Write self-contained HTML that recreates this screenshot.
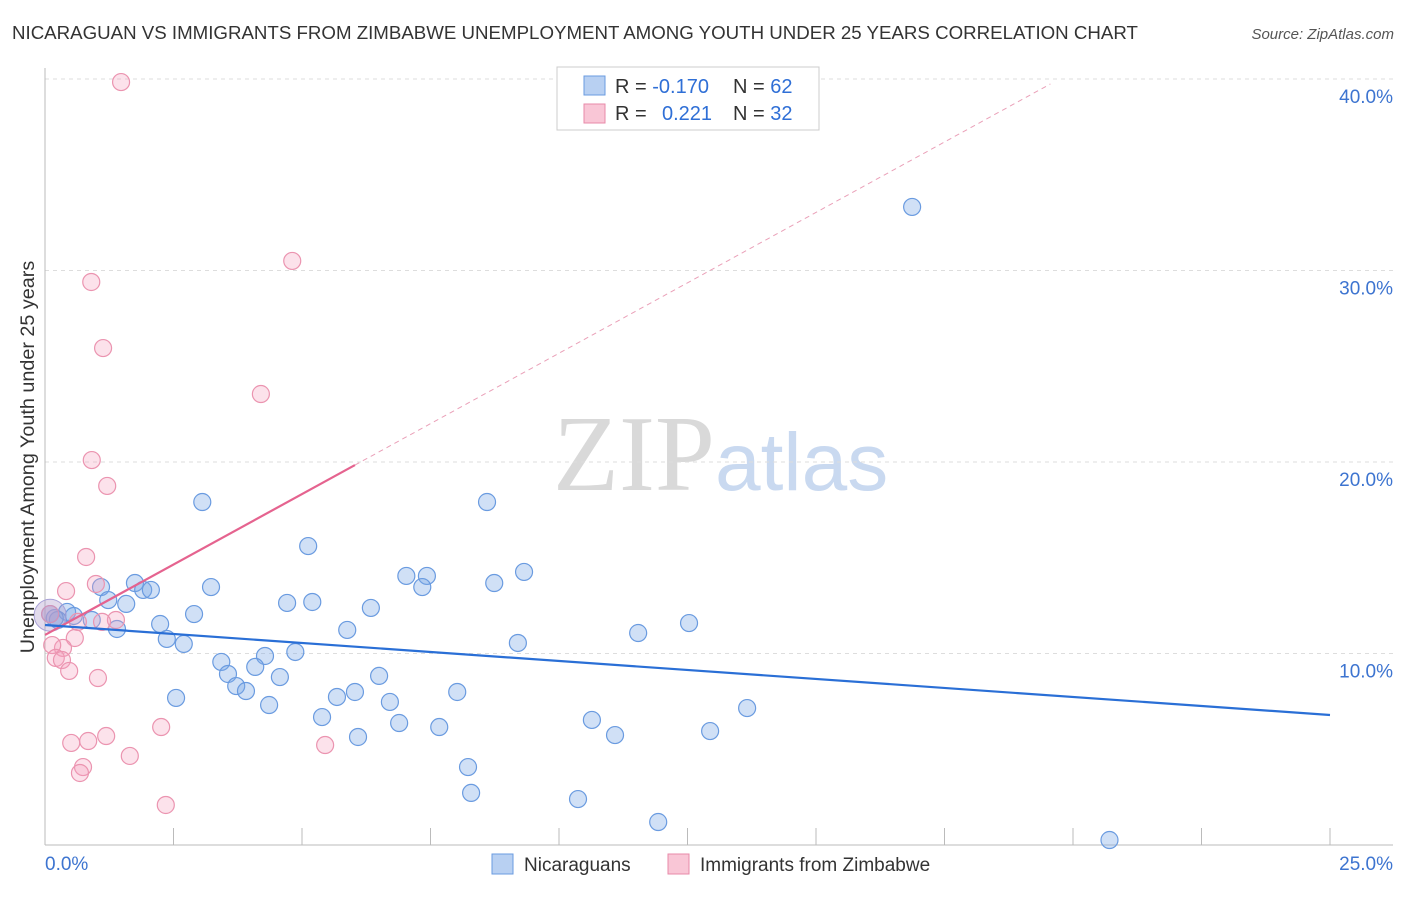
<!DOCTYPE html>
<html><head><meta charset="utf-8"><style>
body{margin:0;background:#fff;font-family:"Liberation Sans",sans-serif}
</style></head><body>
<svg id="chart" width="1406" height="892" xmlns="http://www.w3.org/2000/svg" font-family="Liberation Sans, sans-serif">
<text x="12" y="39" font-size="18.7" fill="#333">NICARAGUAN VS IMMIGRANTS FROM ZIMBABWE UNEMPLOYMENT AMONG YOUTH UNDER 25 YEARS CORRELATION CHART</text>
<text x="1394" y="39" font-size="15" fill="#555" font-style="italic" text-anchor="end">Source: ZipAtlas.com</text>
<text x="553" y="490" font-size="108"><tspan font-family="Liberation Serif, serif" fill="#d9d9d9">ZIP</tspan><tspan fill="#c9d9f0" font-size="82">atlas</tspan></text>
<g id="grid"></g>
<g id="axes"></g>
<g id="marks"></g>
<text transform="translate(34,457) rotate(-90)" font-size="19.8" fill="#333" text-anchor="middle">Unemployment Among Youth under 25 years</text>
<g>
<rect x="557" y="67" width="262" height="63" fill="#fff" stroke="#ccc"/>
<rect x="584" y="76" width="21" height="19" fill="#b8d0f2" stroke="#6a9be0"/>
<rect x="584" y="104" width="21" height="19" fill="#f9c6d6" stroke="#e88aa8"/>
<text x="615" y="93" font-size="20" fill="#333">R = <tspan fill="#2f6fd6">-0.170</tspan><tspan x="733">N = </tspan><tspan fill="#2f6fd6">62</tspan></text>
<text x="615" y="120" font-size="20" fill="#333">R = <tspan x="662" fill="#2f6fd6">0.221</tspan><tspan x="733">N = </tspan><tspan fill="#2f6fd6">32</tspan></text>
</g>
<g>
<rect x="492" y="854" width="21" height="20" fill="#b8d0f2" stroke="#6a9be0"/>
<text x="524" y="871" font-size="19" fill="#333">Nicaraguans</text>
<rect x="668" y="854" width="21" height="20" fill="#f9c6d6" stroke="#e88aa8"/>
<text x="700" y="871" font-size="19" fill="#333">Immigrants from Zimbabwe</text>
</g>
</svg>
<script>
const xTicks=[0,2.5,5,7.5,10,12.5,15,17.5,20,22.5,25];
const yTicks=[10,20,30,40];
const yTickLabels=["10.0%","20.0%","30.0%","40.0%"];
const xTickLabels=["0.0%","25.0%"];
const blueX=[16.87,8.60,3.06,5.12,9.32,7.03,7.43,8.74,7.34,1.75,1.91,2.06,3.23,1.09,1.23,1.58,4.71,5.20,6.34,2.90,0.43,0.56,0.25,0.91,2.24,1.40,12.53,11.54,5.88,2.37,2.70,9.20,4.87,4.28,3.43,4.09,3.56,4.57,6.50,3.72,3.91,2.55,8.02,5.68,6.03,6.71,4.36,13.66,5.39,6.89,7.67,10.64,11.09,12.94,6.09,8.23,8.29,10.37,11.93,20.71,0.19,0.10];
const blueY=[33.32,17.91,17.91,15.61,14.26,14.05,14.05,13.68,13.47,13.68,13.32,13.32,13.47,13.47,12.79,12.59,12.64,12.69,12.38,12.06,12.17,11.96,11.75,11.75,11.54,11.28,11.59,11.07,11.23,10.76,10.50,10.55,10.08,9.87,9.56,9.30,8.93,8.77,8.83,8.30,8.04,7.68,7.99,7.73,7.99,7.47,7.31,7.15,6.68,6.37,6.16,6.53,5.74,5.95,5.64,4.07,2.72,2.40,1.20,0.26,11.85,12.06];
const pinkX=[1.48,4.81,0.90,1.13,4.20,0.91,1.21,0.80,0.41,0.99,1.38,1.11,0.58,0.35,0.14,0.21,0.33,0.47,1.03,2.26,0.51,0.84,1.19,1.65,0.74,0.68,2.35,5.45,0.10,0.64];
const pinkY=[39.84,30.50,29.40,25.95,23.55,20.10,18.75,15.04,13.26,13.63,11.75,11.65,10.81,10.29,10.44,9.77,9.66,9.09,8.72,6.16,5.33,5.43,5.69,4.65,4.07,3.76,2.09,5.22,12.06,11.65];
const blueTrendX=[0,25];const blueTrendY=[11.49,6.79];
const pinkTrendX=[0,6.03];const pinkTrendY=[10.97,19.84];
const pinkDashX=[6.03,19.56];const pinkDashY=[19.84,39.74];
const NS="http://www.w3.org/2000/svg";
const sx=v=>45+v*(1285/25);
const sy=v=>845-v*19.15;
function mk(tag,attrs,parent){const e=document.createElementNS(NS,tag);for(const k in attrs)e.setAttribute(k,attrs[k]);document.getElementById(parent).appendChild(e);return e;}
yTicks.forEach((t,i)=>{
 const g=mk('line',{x1:45,x2:1393,y1:sy(t),y2:sy(t),stroke:'#ddd','stroke-dasharray':'4,4'},'grid');
 
 
 const l=mk('text',{x:1393,y:sy(t)+24,'font-size':19,fill:'#3d74d0','text-anchor':'end'},'axes');
 l.textContent=yTickLabels[i];
 
 
});
let a=mk('line',{x1:45,x2:45,y1:68,y2:845,stroke:'#bbb'},'axes');


a=mk('line',{x1:45,x2:1393,y1:845,y2:845,stroke:'#bbb'},'axes');


xTicks.forEach(t=>{
 const e=mk('line',{x1:sx(t),x2:sx(t),y1:828,y2:845,stroke:'#bbb'},'axes');
 
 
});
let xl=mk('text',{x:45,y:870,'font-size':19,fill:'#3d74d0'},'axes');xl.textContent=xTickLabels[0];


xl=mk('text',{x:1393,y:870,'font-size':19,fill:'#3d74d0','text-anchor':'end'},'axes');xl.textContent=xTickLabels[1];


blueX.forEach((x,i)=>{
 const c=mk('circle',{cx:sx(x),cy:sy(blueY[i]),r:8.5,fill:'rgba(120,165,230,0.35)',stroke:'#6a9be0','stroke-width':1.2},'marks');
 
 
});
pinkX.forEach((x,i)=>{
 const c=mk('circle',{cx:sx(x),cy:sy(pinkY[i]),r:8.5,fill:'rgba(245,160,190,0.3)',stroke:'#eb94b0','stroke-width':1.2},'marks');
 
 
});
let big=mk('circle',{cx:sx(0.1),cy:sy(12),r:16,fill:'rgba(170,150,200,0.35)',stroke:'#a9a2d8','stroke-width':1},'marks');


let t=mk('line',{x1:sx(pinkDashX[0]),y1:sy(pinkDashY[0]),x2:sx(pinkDashX[1]),y2:sy(pinkDashY[1]),stroke:'#eaa0b8','stroke-width':1,'stroke-dasharray':'5,4'},'marks');


t=mk('line',{x1:sx(pinkTrendX[0]),y1:sy(pinkTrendY[0]),x2:sx(pinkTrendX[1]),y2:sy(pinkTrendY[1]),stroke:'#e5638f','stroke-width':2.2},'marks');


t=mk('line',{x1:sx(blueTrendX[0]),y1:sy(blueTrendY[0]),x2:sx(blueTrendX[1]),y2:sy(blueTrendY[1]),stroke:'#2a6fd6','stroke-width':2.2},'marks');


</script>
</body></html>
